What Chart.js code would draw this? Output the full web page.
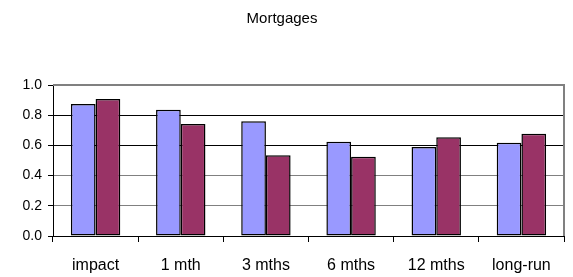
<!DOCTYPE html>
<html>
<head>
<meta charset="utf-8">
<script src="https://cdn.jsdelivr.net/npm/chart.js@4/dist/chart.umd.min.js"></script>
<style>
  html, body { margin: 0; padding: 0; background: #fff; }
  #wrap { width: 573px; height: 277px; }
</style>
</head>
<body>
<div id="wrap"><canvas id="chart" width="573" height="277"></canvas></div>
<script>
// data
const categories = ['impact', '1 mth', '3 mths', '6 mths', '12 mths', 'long-run'];
const seriesA    = [0.874, 0.836, 0.760, 0.625, 0.590, 0.618];
const seriesB    = [0.907, 0.742, 0.534, 0.525, 0.654, 0.677];
const yTicks     = [0, 0.2, 0.4, 0.6, 0.8, 1.0];

const FONT = "'Liberation Sans', Arial, sans-serif";

// grey frame on top / right of plot area
const frame = {
  id: 'frame',
  afterDraw(chart) {
    const { ctx, chartArea: a } = chart;
    ctx.save();
    ctx.strokeStyle = '#808080';
    ctx.lineWidth = 2;
    ctx.beginPath();
    ctx.moveTo(a.left, a.top);
    ctx.lineTo(a.right, a.top);
    ctx.lineTo(a.right, a.bottom);
    ctx.stroke();
    ctx.restore();
  },
};

new Chart(document.getElementById('chart'), {
  type: 'bar',
  data: {
    labels: categories,
    datasets: [
      {
        label: 'A',
        data: seriesA,
        backgroundColor: '#9999ff',
        borderColor: '#000',
        borderWidth: 1.5,
        borderSkipped: false,
      },
      {
        label: 'B',
        data: seriesB,
        backgroundColor: '#993366',
        borderColor: '#000',
        borderWidth: 1.5,
        borderSkipped: false,
      },
    ],
  },
  options: {
    responsive: false,
    animation: false,
    layout: { padding: { left: 0, right: 9, top: 0, bottom: 0 } },
    datasets: { bar: { categoryPercentage: 0.58, barPercentage: 1.0 } },
    plugins: {
      legend: { display: false },
      tooltip: { enabled: false },
      title: {
        display: true,
        text: 'Mortgages',
        color: '#000',
        font: { family: FONT, size: 15, weight: 'normal' },
        padding: { top: 10, bottom: 57 },
      },
    },
    scales: {
      x: {
        grid: {
          offset: true,
          drawOnChartArea: false,
          drawTicks: true,
          tickLength: 6,
          tickColor: '#000',
        },
        border: { color: '#000', width: 1 },
        ticks: {
          color: '#000',
          padding: 14,
          font: { family: FONT, size: 16 },
        },
        afterFit: s => { s.height = 41; },
      },
      y: {
        min: 0,
        max: 1.0,
        afterBuildTicks: s => { s.ticks = yTicks.map(v => ({ value: v })); },
        grid: {
          color: c => (c.tick && (c.tick.value === 0.6 || c.tick.value === 0.8)) ? '#000' : '#808080',
          tickLength: 5,
          tickColor: '#000',
        },
        border: { color: '#000', width: 1 },
        ticks: {
          color: '#000',
          padding: 6,
          font: { family: FONT, size: 14 },
          callback: v => Number(v).toFixed(1),
        },
        afterFit: s => { s.width = 53; },
      },
    },
  },
  plugins: [frame],
});
</script>
</body>
</html>
